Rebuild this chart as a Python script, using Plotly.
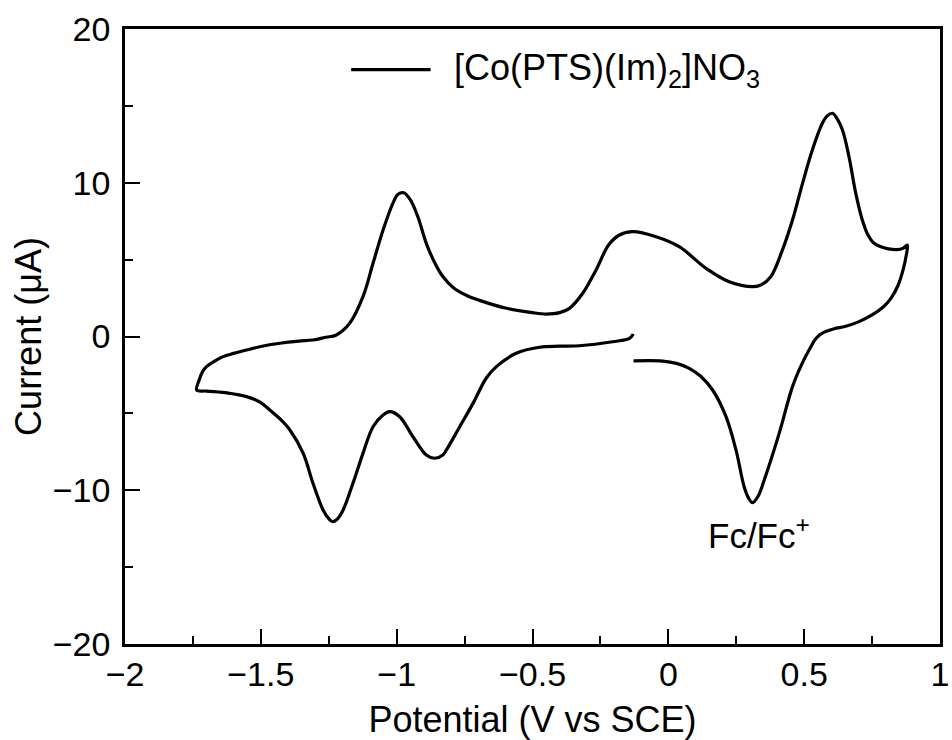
import plotly.graph_objects as go

# Cyclic voltammogram of [Co(PTS)(Im)2]NO3, one continuous sweep
potential = [
    # cathodic wave of the ferrocene couple, then up to the positive vertex
    -0.128, -0.021, 0.03, 0.077, 0.12, 0.163, 0.212, 0.249, 0.279, 0.295,
    0.31, 0.33, 0.353, 0.408, 0.457, 0.49, 0.518, 0.545, 0.57, 0.61,
    0.65, 0.70, 0.75, 0.79, 0.82, 0.845, 0.865, 0.876, 0.88,
    # return sweep over the top
    0.865, 0.84, 0.81, 0.78, 0.755, 0.735, 0.714, 0.69, 0.665, 0.641,
    0.62, 0.604, 0.585, 0.567, 0.53, 0.494, 0.457, 0.42, 0.377, 0.34,
    0.31, 0.224, 0.139, 0.04, -0.045, -0.131, -0.18, -0.22, -0.266,
    -0.315, -0.364, -0.40, -0.45, -0.5, -0.6, -0.695, -0.74, -0.79,
    -0.83, -0.86, -0.891, -0.922, -0.95, -0.974, -0.995, -1.014, -1.05,
    -1.087, -1.124, -1.173, -1.222, -1.26, -1.308, -1.36, -1.43, -1.5,
    -1.553, -1.6, -1.639, -1.67, -1.70, -1.715, -1.727, -1.736,
    # forward sweep along the bottom back to the start potential
    -1.70, -1.62, -1.553, -1.50, -1.467, -1.43, -1.393, -1.344, -1.308,
    -1.271, -1.25, -1.236, -1.22, -1.197, -1.161, -1.124, -1.087, -1.05,
    -1.026, -0.989, -0.94, -0.891, -0.86, -0.83, -0.817, -0.768, -0.719,
    -0.67, -0.633, -0.56, -0.474, -0.40, -0.327, -0.205, -0.143, -0.129,
]
current = [
    -1.59, -1.60, -1.75, -2.07, -2.6, -3.48, -5.2, -7.38, -9.77, -10.5,
    -10.81, -10.4, -9.33, -6.3, -3.26, -1.85, -0.88, -0.1, 0.25, 0.5,
    0.65, 0.95, 1.4, 1.9, 2.5, 3.3, 4.4, 5.3, 5.95,
    5.75, 5.65, 5.7, 5.85, 6.1, 6.6, 7.58, 9.31, 11.69, 13.43,
    14.2, 14.52, 14.35, 13.87, 12.13, 9.96, 7.58, 5.63, 3.89, 3.35,
    3.24, 3.56, 4.43, 5.84, 6.49, 6.82, 6.6, 5.95, 4.33,
    2.81, 1.83, 1.55, 1.46, 1.55, 1.85, 2.35, 2.65, 3.15,
    3.9, 4.8, 6.06, 7.79, 8.9, 9.35, 9.25, 8.66, 6.93,
    4.76, 2.59, 0.86, 0.1, -0.05, -0.23, -0.3, -0.44, -0.65,
    -0.88, -1.1, -1.31, -1.6, -1.96, -2.3, -2.83, -3.48,
    -3.55, -3.68, -3.91, -4.3, -4.78, -5.35, -6.08, -7.6, -9.55,
    -11.28, -11.85, -12.04, -11.9, -11.28, -9.55, -7.6, -5.87, -5.11,
    -4.89, -5.22, -6.52, -7.71, -7.92, -7.7, -7.38, -5.87, -4.35,
    -2.7, -1.96, -1.09, -0.70, -0.63, -0.6, -0.34, -0.12, 0.16,
]

x_ticks = [-2, -1.5, -1, -0.5, 0, 0.5, 1]
x_tick_labels = ["\u22122", "\u22121.5", "\u22121", "\u22120.5", "0", "0.5", "1"]
y_ticks = [-20, -10, 0, 10, 20]
y_tick_labels = ["\u221220", "\u221210", "0", "10", "20"]

series_name = "[Co(PTS)(Im)<sub>2</sub>]NO<sub>3</sub>"
peak_label = "Fc/Fc<sup>+</sup>"
peak_label_pos = (0.335, -12.8)

FONT = "Liberation Sans, Arial, Helvetica, sans-serif"
INK = "#000000"

fig = go.Figure()
fig.add_trace(go.Scatter(
    x=potential, y=current, mode="lines", name=series_name,
    line=dict(color=INK, width=3.2, shape="spline", smoothing=1.0),
    showlegend=False, hoverinfo="skip",
))

axis_common = dict(
    showgrid=False, zeroline=False, showline=True, linecolor=INK,
    linewidth=2.5, mirror=True, ticks="inside", ticklen=15, tickwidth=2,
    tickcolor=INK, tickfont=dict(family=FONT, size=34, color=INK),
    ticklabeloverflow="allow",
)

fig.update_xaxes(
    range=[-2, 1], tickvals=x_ticks, ticktext=x_tick_labels,
    minor=dict(dtick=0.25, tick0=-2, ticks="inside", ticklen=8,
               tickwidth=2, tickcolor=INK),
    title=dict(text="Potential (V vs SCE)",
               font=dict(family=FONT, size=36, color=INK), standoff=18),
    ticklabelstandoff=-2, automargin=False,
    **axis_common,
)
fig.update_yaxes(
    range=[-20, 20], tickvals=y_ticks, ticktext=y_tick_labels,
    minor=dict(dtick=5, tick0=-20, ticks="inside", ticklen=8,
               tickwidth=2, tickcolor=INK),
    title=dict(text="Current (\u03bcA)",
               font=dict(family=FONT, size=36, color=INK), standoff=1),
    ticklabelstandoff=5, automargin=True,
    **axis_common,
)

# Legend entry: sample line plus label
fig.add_shape(type="line", xref="paper", yref="paper",
              x0=0.2775, x1=0.375, y0=0.934, y1=0.934,
              line=dict(color=INK, width=3.2))
fig.add_annotation(xref="paper", yref="paper", x=0.401, y=0.934,
                   xanchor="left", yanchor="middle", showarrow=False,
                   text=series_name,
                   font=dict(family=FONT, size=36, color=INK))

# Reference couple label under the ferrocene wave
fig.add_annotation(x=peak_label_pos[0], y=peak_label_pos[1],
                   xanchor="center", yanchor="middle", showarrow=False,
                   text=peak_label,
                   font=dict(family=FONT, size=35, color=INK))

fig.update_layout(
    width=952, height=740,
    margin=dict(l=125, r=9, t=29, b=96),
    paper_bgcolor="white", plot_bgcolor="white",
    font=dict(family=FONT, color=INK),
)

fig.write_html("out.html")
